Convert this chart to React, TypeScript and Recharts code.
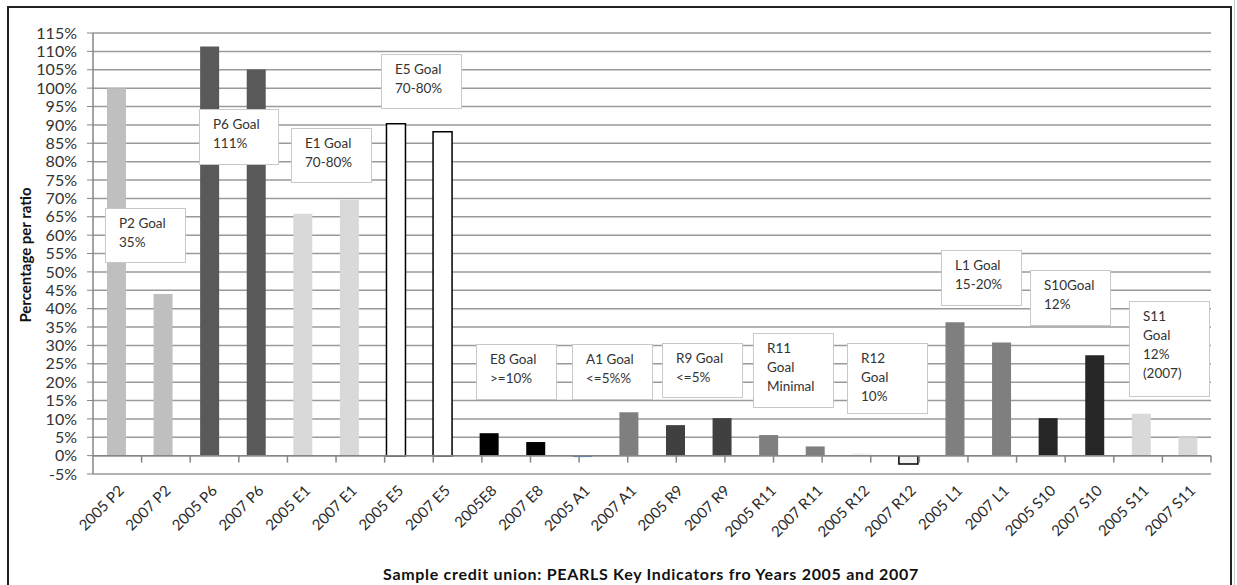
import React from 'react';
import { BarChart, Bar, Cell, XAxis, YAxis, CartesianGrid, ReferenceLine } from 'recharts';

const categories = [
  '2005 P2', '2007 P2', '2005 P6', '2007 P6', '2005 E1', '2007 E1',
  '2005 E5', '2007 E5', '2005E8', '2007 E8', '2005 A1', '2007 A1',
  '2005 R9', '2007 R9', '2005 R11', '2007 R11', '2005 R12', '2007 R12',
  '2005 L1', '2007 L1', '2005 S10', '2007 S10', '2005 S11', '2007 S11',
];

const ratioValues = [
  100, 44, 111.3, 105.1, 65.8, 69.6,
  90.3, 88.1, 6.1, 3.7, -0.4, 11.8,
  8.3, 10.2, 5.6, 2.5, 0.6, -2.3,
  36.3, 30.8, 10.2, 27.3, 11.4, 5.0,
];

const yTicks = [-5, 0, 5, 10, 15, 20, 25, 30, 35, 40, 45, 50, 55, 60, 65, 70, 75, 80, 85, 90, 95, 100, 105, 110, 115];

const goalNotes = [
  ['P2 Goal', '35%'],
  ['P6 Goal', '111%'],
  ['E1 Goal', '70-80%'],
  ['E5 Goal', '70-80%'],
  ['E8 Goal', '>=10%'],
  ['A1 Goal', '<=5%%'],
  ['R9 Goal', '<=5%'],
  ['R11', 'Goal', 'Minimal'],
  ['R12', 'Goal', '10%'],
  ['L1 Goal', '15-20%'],
  ['S10Goal', '12%'],
  ['S11', 'Goal', '12%', '(2007)'],
];

// styling, one per bar
const barFills = [
  '#BFBFBF', '#BFBFBF', '#595959', '#595959', '#D9D9D9', '#D9D9D9',
  '#FFFFFF', '#FFFFFF', '#000000', '#000000', '#4F81BD', '#7F7F7F',
  '#404040', '#404040', '#7F7F7F', '#7F7F7F', '#F2F2F2', '#F2F2F2',
  '#7F7F7F', '#7F7F7F', '#262626', '#262626', '#D9D9D9', '#D9D9D9',
];
const outlined = [6, 7, 17];

// box placement (left, top, width, height) in page pixels
const noteBoxes = [
  [105, 208, 81, 55], [199, 109, 80, 56], [291, 128, 81, 55], [381, 54, 81, 55],
  [476, 344, 81, 56], [572, 344, 81, 56], [662, 343, 81, 55], [753, 333, 81, 75],
  [847, 343, 81, 71], [941, 250, 81, 56], [1030, 270, 81, 56], [1129, 301, 81, 96],
];

const data = categories.map((name, i) => ({ name, value: ratioValues[i] }));
const edges = categories.map((_, i) => i + 1);

const FONT = 'Lato, "Open Sans", sans-serif';

const XTick = (props: any) => {
  const { x, y, payload } = props;
  return (
    <g transform={`translate(${x + 5},${y + 14})`}>
      <text textAnchor="end" transform="rotate(-45)" dy="0.35em" fontSize={15} fill="#2a2a2a" fontFamily={FONT}>
        {payload.value}
      </text>
    </g>
  );
};

export default function App() {
  return (
    <div style={{ position: 'absolute', left: 0, top: 0, width: 1237, height: 585, background: '#fff', overflow: 'hidden', fontFamily: FONT }}>
      <div style={{ position: 'absolute', left: 7, top: 6, width: 1221, height: 620, border: '2px solid #222' }} />
      <div style={{ position: 'absolute', left: 1234, top: 0, width: 1, height: 585, background: '#c8c8c8' }} />
      <div style={{ position: 'absolute', left: 0, top: 0 }}>
        <BarChart width={1237} height={585} data={data} margin={{ top: 33, right: 26, bottom: 11, left: 33 }} barCategoryGap="30%">
          <CartesianGrid xAxisId="cat" vertical={false} stroke="#9a9a9a" strokeWidth={1.5} />
          <XAxis xAxisId="cat" dataKey="name" type="category" interval={0} height={100} axisLine={false} tickLine={false} tickSize={0} tickMargin={0} tick={<XTick />} />
          <XAxis xAxisId="edges" type="number" domain={[0, 24]} hide />
          <YAxis
            domain={[-5, 115]}
            ticks={yTicks}
            interval={0}
            width={60}
            tickFormatter={(v) => `${v}%`}
            axisLine={{ stroke: '#868686', strokeWidth: 1.5 }}
            tickLine={{ stroke: '#868686' }}
            tickSize={6}
            tickMargin={10}
            tick={{ fill: '#333', fontSize: 16, fontFamily: FONT }}
          />
          <Bar xAxisId="cat" dataKey="value" isAnimationActive={false}>
            {data.map((d, i) => (
              <Cell
                key={d.name}
                fill={barFills[i]}
                stroke={outlined.includes(i) ? '#000' : 'none'}
                strokeWidth={outlined.includes(i) ? 1.5 : 0}
              />
            ))}
          </Bar>
          <ReferenceLine xAxisId="cat" y={0} stroke="#868686" strokeWidth={1.5} />
          {edges.map((e) => (
            <ReferenceLine key={e} xAxisId="edges" segment={[{ x: e, y: 0 }, { x: e, y: -1.9 }]} stroke="#868686" strokeWidth={1.5} />
          ))}
        </BarChart>
      </div>
      {goalNotes.map((lines, i) => {
        const [l, t, w, h] = noteBoxes[i];
        return (
          <div
            key={i}
            style={{
              position: 'absolute', left: l, top: t, width: w, height: h, boxSizing: 'border-box',
              background: '#fff', border: '1.5px solid #c8c8c8', padding: '5px 0 0 13px',
              fontSize: 13.5, lineHeight: '19px', color: '#333',
            }}
          >
            {lines.map((s, j) => <div key={j}>{s}</div>)}
          </div>
        );
      })}
      <div style={{ position: 'absolute', left: 25, top: 255, transform: 'translate(-50%, -50%) rotate(-90deg)', whiteSpace: 'nowrap', fontWeight: 700, fontSize: 15, color: '#111' }}>
        Percentage per ratio
      </div>
      <div style={{ position: 'absolute', left: 651, top: 573, transform: 'translate(-50%, -50%)', whiteSpace: 'nowrap', fontWeight: 700, fontSize: 16, letterSpacing: 0.7, color: '#111' }}>
        Sample credit union: PEARLS Key Indicators fro Years 2005 and 2007
      </div>
    </div>
  );
}
